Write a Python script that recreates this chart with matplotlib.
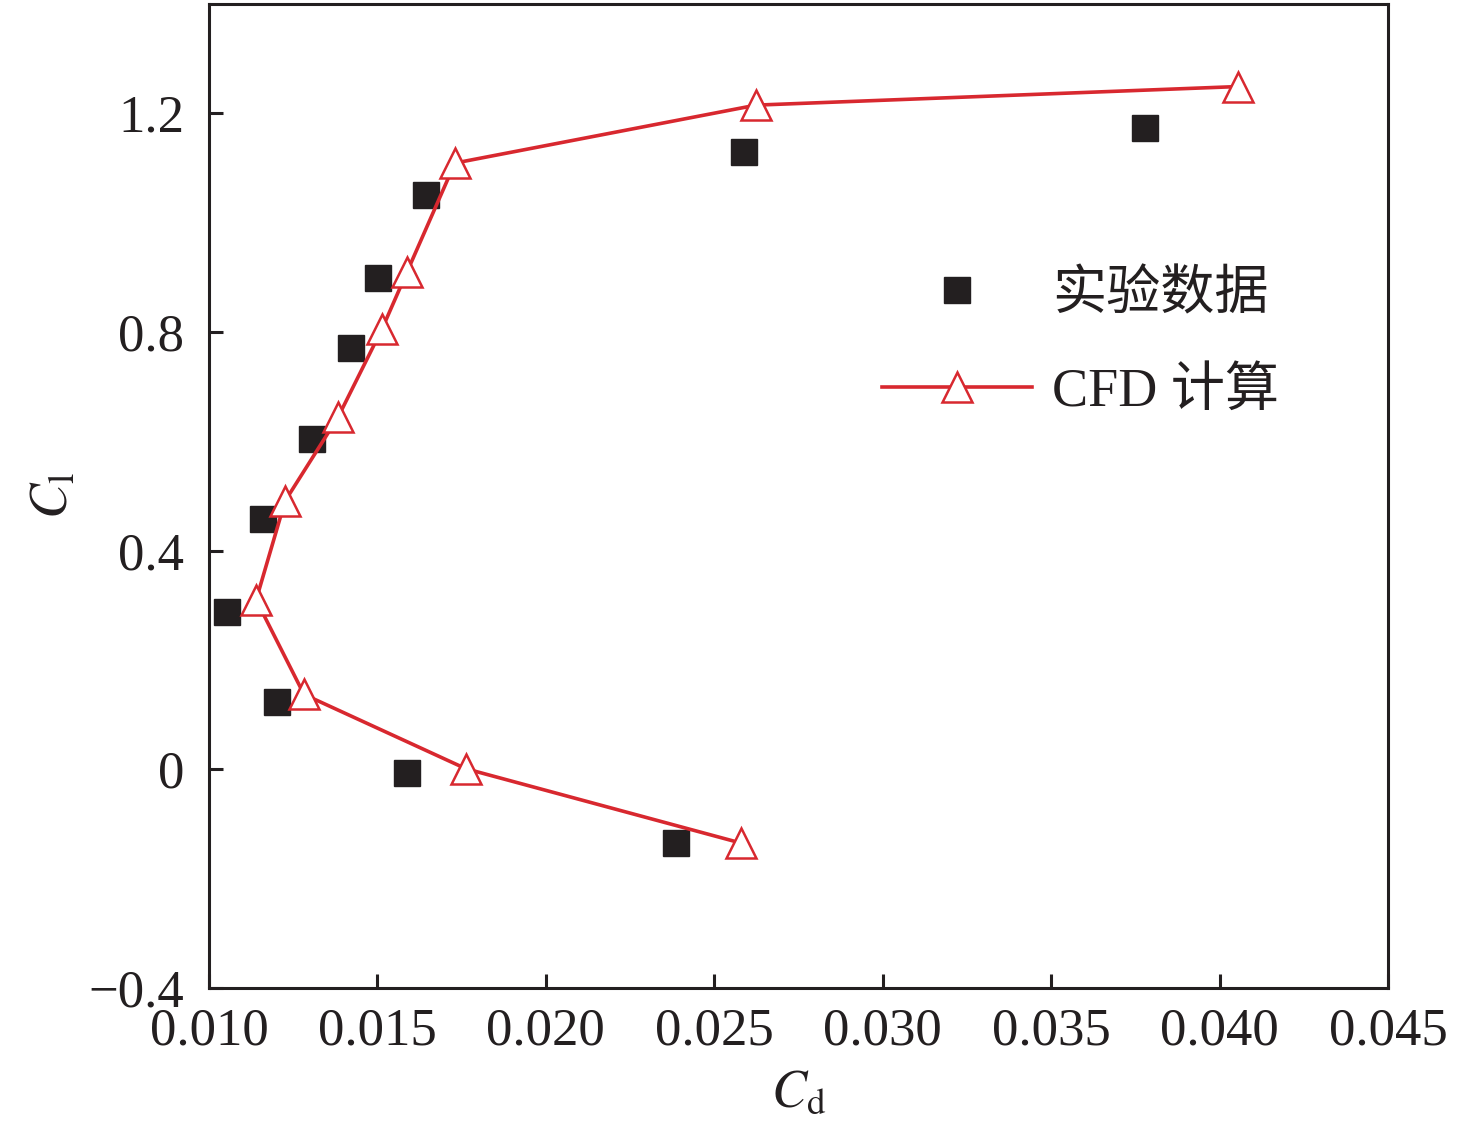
import matplotlib
matplotlib.use("Agg")
import matplotlib.pyplot as plt

plt.rcParams['font.family'] = ['Liberation Serif', 'Noto Sans CJK SC']
plt.rcParams['mathtext.fontset'] = 'stix'
plt.rcParams['axes.unicode_minus'] = True

# 实验数据
exp_cd = [0.01053, 0.01202, 0.01160, 0.01305, 0.01423, 0.01502, 0.01645, 0.02588, 0.03779, 0.01588, 0.02387]
exp_cl = [0.287, 0.124, 0.458, 0.605, 0.771, 0.899, 1.050, 1.129, 1.173, -0.007, -0.135]

# CFD 计算
cfd_cd = [0.02580, 0.01763, 0.01282, 0.01140, 0.01226, 0.01383, 0.01514, 0.01588, 0.01730, 0.02624, 0.04055]
cfd_cl = [-0.135, 0.001, 0.137, 0.310, 0.491, 0.644, 0.806, 0.910, 1.109, 1.215, 1.249]

xticks = [0.010, 0.015, 0.020, 0.025, 0.030, 0.035, 0.040, 0.045]
yticks = [-0.4, 0, 0.4, 0.8, 1.2]

red = '#d8282f'
black = '#231f20'

fig = plt.figure(figsize=(14.76, 11.46), dpi=100)
ax = fig.add_axes([209 / 1476, 1 - 988 / 1146, 1179 / 1476, 984 / 1146])

ax.plot(exp_cd, exp_cl, ls='none', marker='s', ms=18.5, color=black, label='实验数据')
ax.plot(cfd_cd, cfd_cl, color=red, lw=2.6, marker='^', ms=22, mfc='white', mec=red, mew=1.8,
        label='CFD 计算')

ax.set_xlim(0.010, 0.045)
ax.set_ylim(-0.4, 1.4)
ax.set_xticks(xticks)
ax.set_xticklabels(['%.3f' % v for v in xticks])
ax.set_yticks(yticks)
ax.set_yticklabels(['\u22120.4', '0', '0.4', '0.8', '1.2'])

for s in ax.spines.values():
    s.set_linewidth(2.2)
    s.set_color(black)
ax.tick_params(direction='in', length=10, width=2.2, color=black, labelsize=38, pad=14,
               labelcolor=black)
ax.tick_params(axis='y', pad=18)

ax.set_xlabel(r'$C_\mathrm{d}$', fontsize=38, labelpad=10, color=black)
ax.set_ylabel(r'$C_\mathrm{l}$', fontsize=38, labelpad=7, color=black)

leg = ax.legend(loc='upper left', bbox_to_anchor=(0.571, 0.729), frameon=False, fontsize=39,
                handlelength=2.77, handletextpad=0.37, labelspacing=0.86, borderpad=0,
                borderaxespad=0)
for t in leg.get_texts():
    t.set_color(black)

fig.savefig('out.png', dpi=100)
